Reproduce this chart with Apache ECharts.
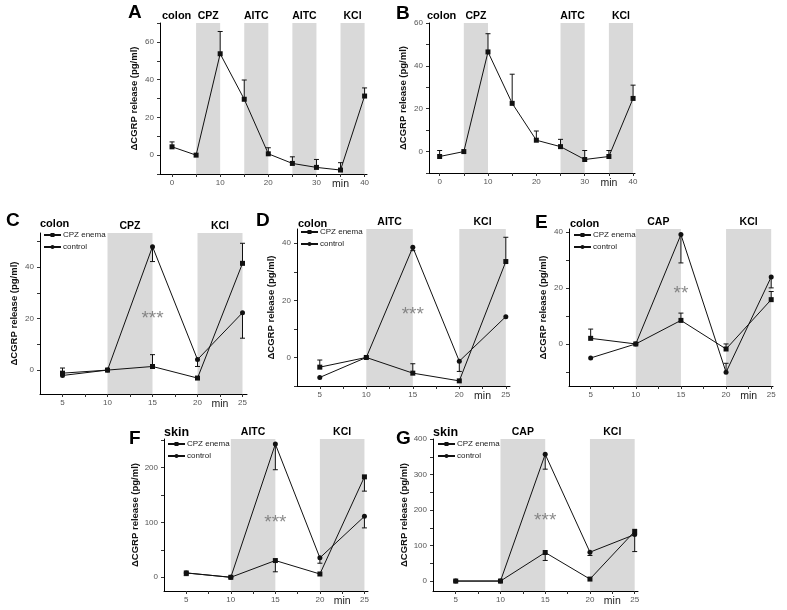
<!DOCTYPE html>
<html><head><meta charset="utf-8">
<script src="https://cdn.jsdelivr.net/npm/echarts@6/dist/echarts.min.js"></script>
<style>html,body{margin:0;padding:0;background:#fff}#c{width:787px;height:610px}</style>
</head><body><div id="c"></div>
<script>
// ---- data ----
const timesAB = [0, 5, 10, 15, 20, 25, 30, 35, 40];
const timesCG = [5, 10, 15, 20, 25];

const valuesA = [4.4, 0, 53.7, 29.6, 0.7, -4.4, -6.5, -7.9, 31.3];
const errEndA = [7.0, 0, 65.5, 39.8, 3.9, -0.9, -2.3, -4.0, 35.6];
const valuesB = [-2.3, 0, 46.5, 22.5, 5.3, 2.3, -3.7, -2.3, 24.8];
const errEndB = [0.5, 0, 55, 36.1, 9.6, 5.7, 0.5, 0.5, 31];

const enemaC = [-1.2, 0, 1.4, -3.1, 41.5];
const enemaErrC = [0.8, 0, 6.0, -3.1, 49.3];
const controlC = [-2.1, 0, 48.0, 4.1, 22.3];
const controlErrC = [-2.1, 0, 42.2, 1.4, 12.4];

const enemaD = [-3.4, 0, -5.5, -8.2, 33.6];
const enemaErrD = [-0.9, 0, -2.2, -8.2, 42.1];
const controlD = [-7.0, 0, 38.6, -1.3, 14.3];
const controlErrD = [-7.0, 0, 37.4, -4.9, 14.3];

const enemaE = [2.0, 0, 8.4, -1.8, 15.8];
const enemaErrE = [5.3, 0, 11.0, 0, 18.7];
const controlE = [-5.0, 0, 39.0, -10.1, 23.9];
const controlErrE = [-5.0, 0, 28.9, -6.9, 20.0];

const enemaF = [7.9, 0, 30.5, 6.0, 183];
const enemaErrF = [3.0, 0, 10.0, 6.0, 157];
const controlF = [7.9, 0, 242.7, 35.4, 111];
const controlErrF = [7.9, 0, 196, 25.6, 90];

const enemaG = [0, 0, 80.4, 5.6, 140];
const enemaErrG = [0, 0, 58, 5.6, 140];
const controlG = [0, 0, 357, 81.3, 131];
const controlErrG = [0, 0, 315, 72, 83];

const bandsA = [[5, 10, 'CPZ'], [15, 20, 'AITC'], [25, 30, 'AITC'], [35, 40, 'KCl']];
const bandsB = [[5, 10, 'CPZ'], [25, 30, 'AITC'], [35, 40, 'KCl']];
const bandsC = [[10, 15, 'CPZ'], [20, 25, 'KCl']];
const bandsD = [[10, 15, 'AITC'], [20, 25, 'KCl']];
const bandsE = [[10, 15, 'CAP'], [20, 25, 'KCl']];
const bandsF = [[10, 15, 'AITC'], [20, 25, 'KCl']];
const bandsG = [[10, 15, 'CAP'], [20, 25, 'KCl']];

const xLabelsAB = [0, 10, 20, 30, 35, 40];
const xLabelsCG = [5, 10, 15, 20, 22.5, 25];
const yLabelsA = [0, 20, 40, 60];
const yLabelsB = [0, 20, 40, 60];
const yLabelsC = [0, 20, 40];
const yLabelsD = [0, 20, 40];
const yLabelsE = [0, 20, 40];
const yLabelsF = [0, 100, 200];
const yLabelsG = [0, 100, 200, 300, 400];

const yName = 'ΔCGRP release (pg/ml)';
const FONT = 'Liberation Sans, Arial, Helvetica, sans-serif';

// ---- panel layout ----
const panels = [
  {letter:'A', tissue:'colon', g:[160,23,367,174], x:[-2.5,40.5], y:[-10,70], times:timesAB,
   xLab:xLabelsAB, xTick:[0,5,10,15,20,25,30,35,40], minAt:35, yLab:yLabelsA, yTick:[-10,0,10,20,30,40,50,60,70],
   bands:bandsA, series:[{name:'A', v:valuesA, e:errEndA, sym:'rect'}],
   letterPos:[128,3], tissuePos:[162,10]},
  {letter:'B', tissue:'colon', g:[429,23,635,173], x:[-2.2,40.4], y:[-10,60], times:timesAB,
   xLab:xLabelsAB, xTick:[0,5,10,15,20,25,30,35,40], minAt:35, yLab:yLabelsB, yTick:[-10,0,10,20,30,40,50,60],
   bands:bandsB, series:[{name:'B', v:valuesB, e:errEndB, sym:'rect'}],
   letterPos:[396,4], tissuePos:[427,10]},
  {letter:'C', tissue:'colon', g:[40,233,247,394], x:[2.5,25.5], y:[-9.3,53.3], times:timesCG,
   xLab:xLabelsCG, xTick:[5,7.5,10,12.5,15,17.5,20,22.5,25], minAt:22.5, yLab:yLabelsC, yTick:[0,10,20,30,40,50],
   bands:bandsC, series:[{name:'CPZ enema', v:enemaC, e:enemaErrC, sym:'rect'},{name:'control', v:controlC, e:controlErrC, sym:'circle'}],
   star:[15,20], starText:'***', legendPos:[43,231], letterPos:[6,211], tissuePos:[40,218]},
  {letter:'D', tissue:'colon', g:[297,229,510,386], x:[2.55,25.45], y:[-10,45], times:timesCG,
   xLab:xLabelsCG, xTick:[5,7.5,10,12.5,15,17.5,20,22.5,25], minAt:22.5, yLab:yLabelsD, yTick:[-10,0,10,20,30,40],
   bands:bandsD, series:[{name:'CPZ enema', v:enemaD, e:enemaErrD, sym:'rect'},{name:'control', v:controlD, e:controlErrD, sym:'circle'}],
   star:[15,15], starText:'***', legendPos:[300,228], letterPos:[256,211], tissuePos:[298,218]},
  {letter:'E', tissue:'colon', g:[569,229,773,386], x:[2.6,25.2], y:[-15,41], times:timesCG,
   xLab:xLabelsCG, xTick:[5,7.5,10,12.5,15,17.5,20,22.5,25], minAt:22.5, yLab:yLabelsE, yTick:[-10,0,10,20,30,40],
   bands:bandsE, series:[{name:'CPZ enema', v:enemaE, e:enemaErrE, sym:'rect'},{name:'control', v:controlE, e:controlErrE, sym:'circle'}],
   star:[15,18], starText:'**', legendPos:[573,231], letterPos:[535,213], tissuePos:[570,218]},
  {letter:'F', tissue:'skin', g:[164,439,368,591], x:[2.5,25.4], y:[-25,252], times:timesCG,
   xLab:xLabelsCG, xTick:[5,7.5,10,12.5,15,17.5,20,22.5,25], minAt:22.5, yLab:yLabelsF, yTick:[0,50,100,150,200,250],
   bands:bandsF, series:[{name:'CPZ enema', v:enemaF, e:enemaErrF, sym:'rect'},{name:'control', v:controlF, e:controlErrF, sym:'circle'}],
   star:[15,100], starText:'***', legendPos:[167,440], letterPos:[129,429], tissuePos:[164,426]},
  {letter:'G', tissue:'skin', g:[433,439,638,591], x:[2.46,25.37], y:[-28,400], times:timesCG,
   xLab:xLabelsCG, xTick:[5,7.5,10,12.5,15,17.5,20,22.5,25], minAt:22.5, yLab:yLabelsG, yTick:[0,50,100,150,200,250,300,350,400],
   bands:bandsG, series:[{name:'CPZ enema', v:enemaG, e:enemaErrG, sym:'rect'},{name:'control', v:controlG, e:controlErrG, sym:'circle'}],
   star:[15,171], starText:'***', legendPos:[437,440], letterPos:[396,429], tissuePos:[433,426]}
];

function errItem(params, api) {
  const x = api.value(0), v = api.value(1), e = api.value(2);
  if (v === e) return {type:'group', children:[]};
  const p1 = api.coord([x, v]), p2 = api.coord([x, e]);
  return {type:'group', children:[
    {type:'line', shape:{x1:p1[0], y1:p1[1], x2:p2[0], y2:p2[1]}, style:{stroke:'#111', lineWidth:1}},
    {type:'line', shape:{x1:p2[0]-2.5, y1:p2[1], x2:p2[0]+2.5, y2:p2[1]}, style:{stroke:'#111', lineWidth:1}}
  ]};
}

const option = {animation:false, backgroundColor:'#fff', textStyle:{fontFamily:FONT},
  grid:[], xAxis:[], yAxis:[], series:[], legend:[], graphic:[]};

panels.forEach((p, i) => {
  option.grid.push({left:p.g[0], top:p.g[1], width:p.g[2]-p.g[0], height:p.g[3]-p.g[1]});
  option.xAxis.push({type:'value', gridIndex:i, min:p.x[0], max:p.x[1], splitLine:{show:false},
    axisLine:{show:true, onZero:false, lineStyle:{color:'#000', width:1}},
    axisTick:{show:true, inside:false, length:3, lineStyle:{color:'#333'}, customValues:p.xTick},
    axisLabel:{customValues:p.xLab, fontSize:8, color:'#555', margin:5, fontFamily:FONT,
      formatter: v => (v === p.minAt ? '{m|min}' : String(v)),
      rich:{m:{fontSize:10.5, color:'#222', fontFamily:FONT}}}
  });
  option.yAxis.push({type:'value', gridIndex:i, min:p.y[0], max:p.y[1], splitLine:{show:false},
    name:yName, nameLocation:'middle', nameGap:21,
    nameTextStyle:{fontSize:9.5, fontWeight:'bold', color:'#111', fontFamily:FONT},
    axisLine:{show:true, onZero:false, lineStyle:{color:'#000', width:1}},
    axisTick:{show:true, inside:false, length:3, lineStyle:{color:'#333'}, customValues:p.yTick},
    axisLabel:{customValues:p.yLab, fontSize:8, color:'#555', margin:6, fontFamily:FONT}
  });
  // bands
  option.series.push({type:'line', xAxisIndex:i, yAxisIndex:i, data:[], z:1, silent:true,
    markArea:{silent:true, itemStyle:{color:'#d9d9d9'},
      label:{show:true, position:'top', distance:1, color:'#000', fontWeight:'bold', fontSize:10.5, fontFamily:FONT},
      data:p.bands.map(b => [{xAxis:b[0], name:b[2]}, {xAxis:b[1]}])}
  });
  p.series.forEach(s => {
    option.series.push({type:'custom', xAxisIndex:i, yAxisIndex:i, silent:true, z:3,
      encode:{x:0, y:1}, renderItem:errItem,
      data:p.times.map((t, k) => [t, s.v[k], s.e[k]])});
    option.series.push({type:'line', name:s.name, xAxisIndex:i, yAxisIndex:i, z:4,
      data:p.times.map((t, k) => [t, s.v[k]]),
      symbol:s.sym, symbolSize:5, showSymbol:true,
      lineStyle:{color:'#111', width:1}, itemStyle:{color:'#111'}});
  });
  if (p.star) {
    option.series.push({type:'scatter', xAxisIndex:i, yAxisIndex:i, z:5, silent:true,
      data:[p.star], symbolSize:1, itemStyle:{color:'rgba(0,0,0,0)'},
      label:{show:true, position:'inside', formatter:p.starText, color:'#6e6e6e', fontSize:19, fontFamily:FONT, padding:[6,0,0,0]}});
  }
  if (p.legendPos) {
    option.legend.push({data:['CPZ enema', 'control'], orient:'vertical', left:p.legendPos[0], top:p.legendPos[1],
      itemWidth:17, itemHeight:5, itemGap:4, padding:0, selectedMode:false,
      textStyle:{fontSize:8, color:'#222', fontFamily:FONT, padding:[0,0,0,-3]}});
  }
  option.graphic.push({type:'text', left:p.letterPos[0], top:p.letterPos[1],
    style:{text:p.letter, font:'bold 19px ' + FONT, fill:'#000'}});
  option.graphic.push({type:'text', left:p.tissuePos[0], top:p.tissuePos[1],
    style:{text:p.tissue, font:'bold ' + (p.tissue === 'skin' ? 12.5 : 11) + 'px ' + FONT, fill:'#000'}});
});

const chart = echarts.init(document.getElementById('c'));
chart.setOption(option);
</script>
</body></html>
